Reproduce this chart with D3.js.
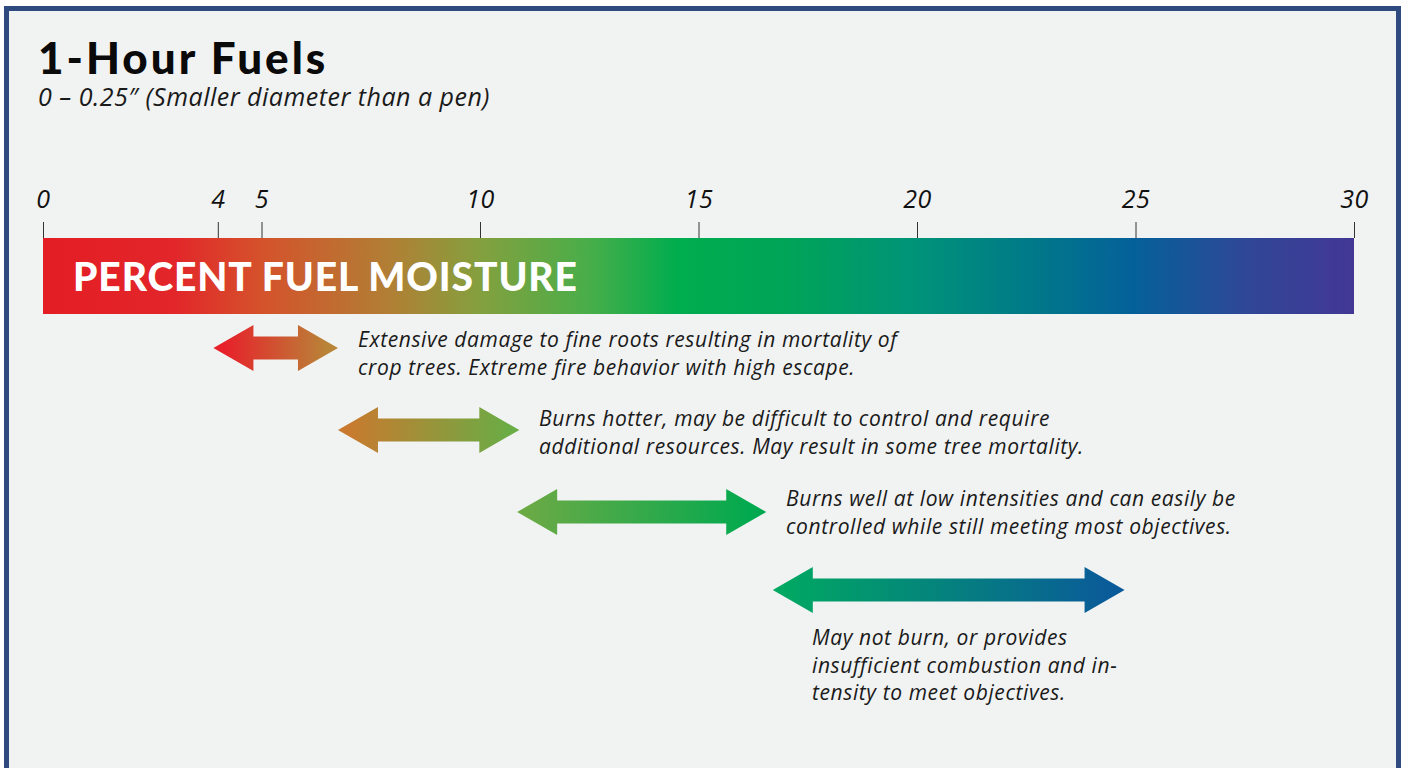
<!DOCTYPE html>
<html>
<head>
<meta charset="utf-8">
<script src="https://cdn.jsdelivr.net/npm/d3@7"></script>
<style>
  html, body { margin: 0; padding: 0; background: #ffffff; }
  svg { display: block; }
</style>
</head>
<body>
<svg id="chart" width="1406" height="768"></svg>
<script>
// Fuel moisture scale (percent) and the labelled ticks along it
const tickValues = [0, 4, 5, 10, 15, 20, 25, 30];

// Colour ramp of the moisture bar, keyed by percent
const rampStops = [0, 3, 5, 8, 10, 12.5, 14.5, 17, 20, 22.5, 25, 27.5, 30];
const rampColors = ["#e41d24", "#e2262a", "#d5522b", "#b08035", "#84a03e", "#48ae49",
                    "#00ad4e", "#00a457", "#009379", "#007a88", "#05609a", "#2f4797", "#433795"];

// Moisture ranges drawn as double arrows, with their colours and descriptions
const rangeStart = [3.9, 6.75, 10.85, 16.7];
const rangeEnd   = [6.75, 10.9, 16.55, 24.75];
const rangeFrom  = ["#e8202a", "#c97a2e", "#6aaa45", "#00a862"];
const rangeTo    = ["#b88538", "#6aac45", "#00a94f", "#0a5a9a"];
const rangeText = [
  ["Extensive damage to fine roots resulting in mortality of",
   "crop trees. Extreme fire behavior with high escape."],
  ["Burns hotter, may be difficult to control and require",
   "additional resources. May result in some tree mortality."],
  ["Burns well at low intensities and can easily be",
   "controlled while still meeting most objectives."],
  ["May not burn, or provides",
   "insufficient combustion and in-",
   "tensity to meet objectives."]
];

const svg = d3.select("#chart");
const italicFont = "'Open Sans', sans-serif";

// panel with framed border
svg.append("rect")
  .attr("x", 6.5).attr("y", 8.5)
  .attr("width", 1392).attr("height", 800)
  .attr("fill", "#f1f3f2")
  .attr("stroke", "#2e4a7e")
  .attr("stroke-width", 5);

// title block
svg.append("text")
  .attr("x", 38).attr("y", 74)
  .attr("font-family", "Lato, sans-serif")
  .attr("font-weight", 900)
  .attr("font-size", 44)
  .attr("letter-spacing", 3)
  .attr("fill", "#0a0a0a")
  .text("1-Hour Fuels");

svg.append("text")
  .attr("x", 38).attr("y", 106)
  .attr("font-family", italicFont)
  .attr("font-style", "italic")
  .attr("font-size", 25)
  .attr("letter-spacing", 0.5)
  .attr("fill", "#1a1a1a")
  .text("0 – 0.25″ (Smaller diameter than a pen)");

// scale
const x = d3.scaleLinear().domain([0, 30]).range([43, 1354]);
const barTop = 238, barH = 76;

const defs = svg.append("defs");
const barGrad = defs.append("linearGradient")
  .attr("id", "barGrad")
  .attr("gradientUnits", "userSpaceOnUse")
  .attr("x1", x(0)).attr("x2", x(30)).attr("y1", 0).attr("y2", 0);
rampStops.forEach((v, i) => {
  barGrad.append("stop")
    .attr("offset", (v - rampStops[0]) / (rampStops[rampStops.length - 1] - rampStops[0]))
    .attr("stop-color", rampColors[i]);
});

// axis with ticks above the bar
const axis = d3.axisTop(x)
  .tickValues(tickValues)
  .tickSize(16)
  .tickPadding(14)
  .tickFormat(d3.format("d"));

const gAxis = svg.append("g")
  .attr("transform", `translate(0,${barTop})`)
  .call(axis);
gAxis.select(".domain").remove();
gAxis.selectAll(".tick line").attr("stroke", "#333").attr("stroke-width", 1);
gAxis.selectAll(".tick text")
  .attr("font-family", italicFont)
  .attr("font-style", "italic")
  .attr("font-size", 25)
  .attr("letter-spacing", 0.5)
  .attr("fill", "#111");

// moisture bar
svg.append("rect")
  .attr("x", x(0)).attr("y", barTop)
  .attr("width", x(30) - x(0)).attr("height", barH)
  .attr("fill", "url(#barGrad)");

svg.append("text")
  .attr("x", 73).attr("y", barTop + 53)
  .attr("font-family", "Lato, sans-serif")
  .attr("font-weight", 900)
  .attr("font-size", 39)
  .attr("letter-spacing", 0.9)
  .attr("fill", "#ffffff")
  .text("PERCENT FUEL MOISTURE");

// double-headed arrows for each moisture range
const rowY = [348, 430, 512, 590];
const headLen = 40, headHalf = 23, shaftHalf = 11.5;

function arrowPath(x0, x1, cy) {
  return [
    [x0, cy],
    [x0 + headLen, cy - headHalf],
    [x0 + headLen, cy - shaftHalf],
    [x1 - headLen, cy - shaftHalf],
    [x1 - headLen, cy - headHalf],
    [x1, cy],
    [x1 - headLen, cy + headHalf],
    [x1 - headLen, cy + shaftHalf],
    [x0 + headLen, cy + shaftHalf],
    [x0 + headLen, cy + headHalf]
  ];
}

const line = d3.line();
rangeStart.forEach((s, i) => {
  const x0 = x(s), x1 = x(rangeEnd[i]);
  const g = defs.append("linearGradient")
    .attr("id", "arrowGrad" + i)
    .attr("gradientUnits", "userSpaceOnUse")
    .attr("x1", x0 + 10).attr("x2", x1 - 10).attr("y1", 0).attr("y2", 0);
  g.append("stop").attr("offset", 0).attr("stop-color", rangeFrom[i]);
  g.append("stop").attr("offset", 1).attr("stop-color", rangeTo[i]);

  svg.append("path")
    .attr("d", line(arrowPath(x0, x1, rowY[i])) + "Z")
    .attr("fill", `url(#arrowGrad${i})`);
});

// range descriptions
const textX = [358, 539, 786, 812];
const textY = [347, 426, 506, 645];
rangeText.forEach((lines, i) => {
  const t = svg.append("text")
    .attr("font-family", italicFont)
    .attr("font-style", "italic")
    .attr("font-size", 21)
    .attr("letter-spacing", 0.6)
    .attr("fill", "#1a1a1a");
  lines.forEach((l, j) => {
    t.append("tspan")
      .attr("x", textX[i])
      .attr("y", textY[i] + j * 27.5)
      .text(l);
  });
});
</script>
</body>
</html>
